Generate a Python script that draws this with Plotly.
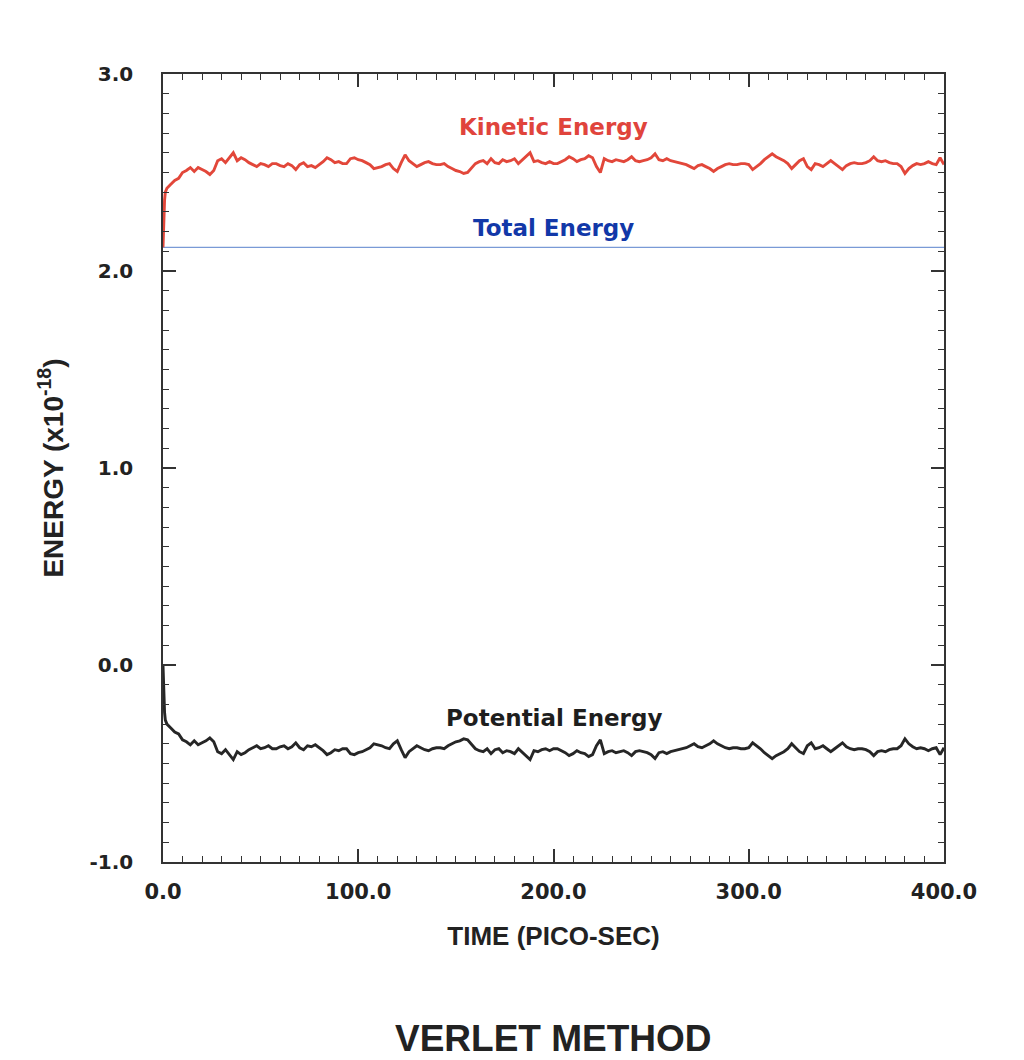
import plotly.graph_objects as go

# sampling times (pico-sec)
time_ps = [0, 0.4, 0.8, 1.2] + list(range(2, 401, 2))

kinetic = [2.12, 2.28, 2.36, 2.40,
    2.42, 2.44, 2.46, 2.47, 2.50, 2.51, 2.525, 2.505, 2.525, 2.515,
    2.505, 2.49, 2.51, 2.56, 2.57, 2.55, 2.575, 2.60, 2.56, 2.575,
    2.565, 2.55, 2.54, 2.53, 2.545, 2.54, 2.53, 2.545, 2.545, 2.535,
    2.53, 2.545, 2.535, 2.515, 2.54, 2.55, 2.53, 2.535, 2.525, 2.54,
    2.555, 2.575, 2.565, 2.55, 2.555, 2.545, 2.545, 2.57, 2.575, 2.565,
    2.56, 2.55, 2.54, 2.52, 2.525, 2.53, 2.54, 2.545, 2.52, 2.505,
    2.55, 2.59, 2.56, 2.545, 2.53, 2.54, 2.55, 2.555, 2.545, 2.54,
    2.54, 2.545, 2.53, 2.52, 2.51, 2.505, 2.495, 2.50, 2.525, 2.545,
    2.555, 2.56, 2.545, 2.57, 2.55, 2.545, 2.565, 2.555, 2.56, 2.57,
    2.545, 2.565, 2.58, 2.60, 2.555, 2.56, 2.55, 2.545, 2.555, 2.545,
    2.545, 2.555, 2.565, 2.58, 2.57, 2.555, 2.565, 2.57, 2.585, 2.575,
    2.53, 2.50, 2.57, 2.56, 2.555, 2.565, 2.56, 2.555, 2.565, 2.58,
    2.56, 2.555, 2.56, 2.565, 2.575, 2.595, 2.565, 2.56, 2.57, 2.56,
    2.555, 2.55, 2.545, 2.54, 2.53, 2.52, 2.535, 2.54, 2.53, 2.52,
    2.505, 2.52, 2.53, 2.54, 2.545, 2.54, 2.54, 2.545, 2.545, 2.54,
    2.515, 2.53, 2.545, 2.565, 2.58, 2.595, 2.58, 2.57, 2.56, 2.545,
    2.52, 2.54, 2.56, 2.57, 2.53, 2.515, 2.545, 2.54, 2.53, 2.545,
    2.56, 2.545, 2.53, 2.515, 2.535, 2.545, 2.55, 2.545, 2.545, 2.55,
    2.56, 2.58, 2.56, 2.555, 2.56, 2.55, 2.545, 2.545, 2.53, 2.495,
    2.52, 2.535, 2.545, 2.54, 2.545, 2.555, 2.545, 2.54, 2.575, 2.54]

potential = [0.0, -0.16, -0.24, -0.28,
    -0.30, -0.32, -0.34, -0.35, -0.38, -0.39, -0.405, -0.385, -0.405, -0.395,
    -0.385, -0.37, -0.39, -0.44, -0.45, -0.43, -0.455, -0.48, -0.44, -0.455,
    -0.445, -0.43, -0.42, -0.41, -0.425, -0.42, -0.41, -0.425, -0.425, -0.415,
    -0.41, -0.425, -0.415, -0.395, -0.42, -0.43, -0.41, -0.415, -0.405, -0.42,
    -0.435, -0.455, -0.445, -0.43, -0.435, -0.425, -0.425, -0.45, -0.455, -0.445,
    -0.44, -0.43, -0.42, -0.40, -0.405, -0.41, -0.42, -0.425, -0.40, -0.385,
    -0.43, -0.47, -0.44, -0.425, -0.41, -0.42, -0.43, -0.435, -0.425, -0.42,
    -0.42, -0.425, -0.41, -0.40, -0.39, -0.385, -0.375, -0.38, -0.405, -0.425,
    -0.435, -0.44, -0.425, -0.45, -0.43, -0.425, -0.445, -0.435, -0.44, -0.45,
    -0.425, -0.445, -0.46, -0.48, -0.435, -0.44, -0.43, -0.425, -0.435, -0.425,
    -0.425, -0.435, -0.445, -0.46, -0.45, -0.435, -0.445, -0.45, -0.465, -0.455,
    -0.41, -0.38, -0.45, -0.44, -0.435, -0.445, -0.44, -0.435, -0.445, -0.46,
    -0.44, -0.435, -0.44, -0.445, -0.455, -0.475, -0.445, -0.44, -0.45, -0.44,
    -0.435, -0.43, -0.425, -0.42, -0.41, -0.40, -0.415, -0.42, -0.41, -0.40,
    -0.385, -0.40, -0.41, -0.42, -0.425, -0.42, -0.42, -0.425, -0.425, -0.42,
    -0.395, -0.41, -0.425, -0.445, -0.46, -0.475, -0.46, -0.45, -0.44, -0.425,
    -0.40, -0.42, -0.44, -0.45, -0.41, -0.395, -0.425, -0.42, -0.41, -0.425,
    -0.44, -0.425, -0.41, -0.395, -0.415, -0.425, -0.43, -0.425, -0.425, -0.43,
    -0.44, -0.46, -0.44, -0.435, -0.44, -0.43, -0.425, -0.425, -0.41, -0.375,
    -0.40, -0.415, -0.425, -0.42, -0.425, -0.435, -0.425, -0.42, -0.455, -0.42]

total_time = [0, 400]
total = [2.12, 2.12]

x_ticks = [0, 100, 200, 300, 400]
x_tick_labels = ["0.0", "100.0", "200.0", "300.0", "400.0"]
y_ticks = [-1, 0, 1, 2, 3]
y_tick_labels = ["-1.0", "0.0", "1.0", "2.0", "3.0"]

labels = ["Kinetic Energy", "Total Energy", "Potential Energy"]
label_x = [200, 200, 200]
label_y = [2.73, 2.22, -0.27]
label_colors = ["#e0443c", "#1238a8", "#1e1e1e"]

fig = go.Figure()
fig.add_trace(go.Scatter(x=total_time, y=total, mode="lines",
                         line=dict(color="#7a9ad6", width=1.2), showlegend=False))
fig.add_trace(go.Scatter(x=time_ps, y=kinetic, mode="lines",
                         line=dict(color="#e2473a", width=2.9), showlegend=False))
fig.add_trace(go.Scatter(x=time_ps, y=potential, mode="lines",
                         line=dict(color="#262626", width=2.9), showlegend=False))

for txt, lx, ly, c in zip(labels, label_x, label_y, label_colors):
    fig.add_annotation(x=lx, y=ly, text=txt, showarrow=False,
                       font=dict(family="DejaVu Sans", size=23, color=c, weight="bold"))

fig.add_annotation(x=0.5, y=-0.224, xref="paper", yref="paper", yanchor="middle",
                   text="VERLET METHOD", showarrow=False,
                   font=dict(family="Liberation Sans", size=37, color="#222", weight="bold"))

axis_common = dict(showline=True, linecolor="#333", linewidth=1.5, mirror="allticks",
                   ticks="inside", ticklen=13, tickwidth=1.5, tickcolor="#333",
                   showgrid=False, zeroline=False)

fig.update_xaxes(range=[0, 400], tickvals=x_ticks, ticktext=x_tick_labels,
                 minor=dict(dtick=10, ticks="inside", ticklen=6, tickwidth=1.2, tickcolor="#333"),
                 tickfont=dict(family="DejaVu Sans", size=21, color="#222", weight="bold"),
                 ticklabelstandoff=10,
                 title=dict(text="TIME (PICO-SEC)", standoff=24,
                            font=dict(family="Liberation Sans", size=26, color="#222", weight="bold")),
                 **axis_common)
fig.update_yaxes(range=[-1, 3], tickvals=y_ticks, ticktext=y_tick_labels,
                 minor=dict(dtick=0.1, ticks="inside", ticklen=6, tickwidth=1.2, tickcolor="#333"),
                 tickfont=dict(family="DejaVu Sans", size=20, color="#222", weight="bold"),
                 ticklabelstandoff=24,
                 title=dict(text="ENERGY (x10<sup>-18</sup>)", standoff=18,
                            font=dict(family="Liberation Sans", size=28, color="#222", weight="bold")),
                 **axis_common)

fig.update_layout(width=1024, height=1060, margin=dict(l=163, r=80, t=74, b=198),
                  paper_bgcolor="white", plot_bgcolor="white", showlegend=False)

fig.write_html("out.html")
